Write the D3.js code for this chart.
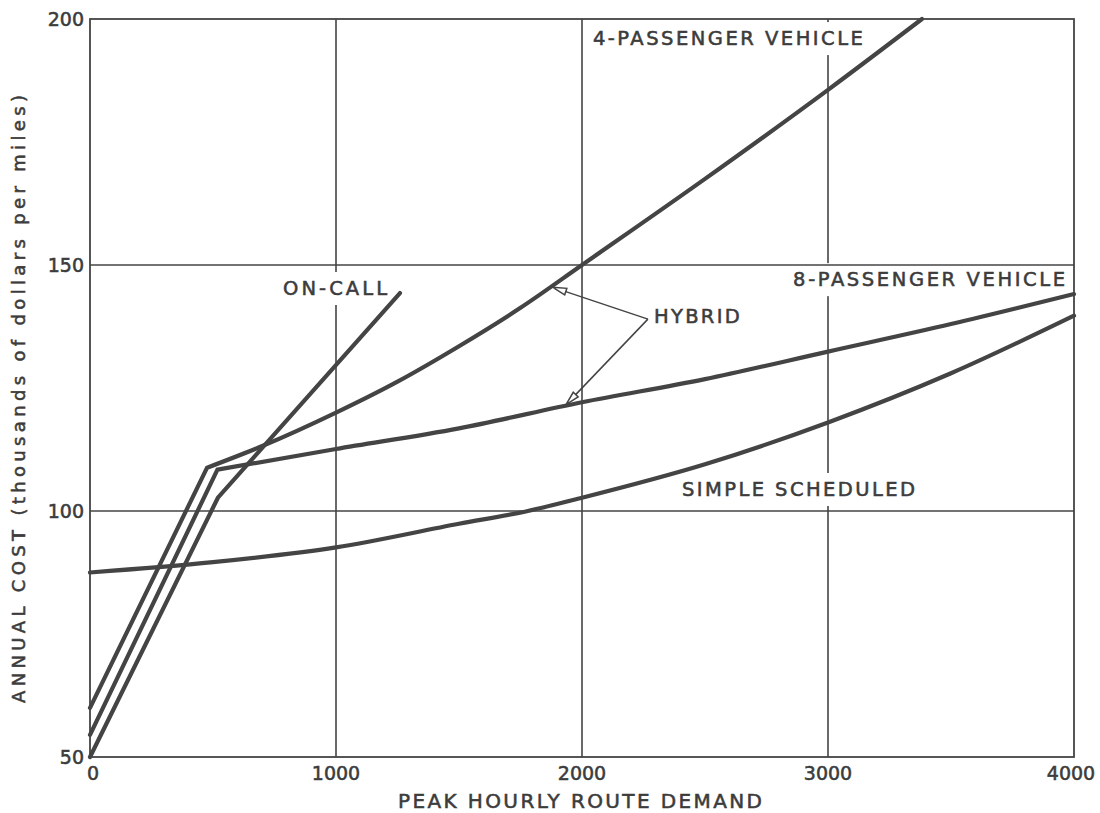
<!DOCTYPE html>
<html>
<head>
<meta charset="utf-8">
<script src="https://cdn.jsdelivr.net/npm/d3@7"></script>
<style>
  html, body { margin: 0; padding: 0; background: #fff; }
  svg { display: block; }
  text { font-family: "DejaVu Sans", sans-serif; fill: #3c3c3c; stroke: #3c3c3c; stroke-width: 0.55px; }
</style>
</head>
<body>
<svg id="chart" width="1100" height="813"></svg>
<script>
// Axis ticks
const xTicks = [0, 1000, 2000, 3000, 4000];
const yTicks = [50, 100, 150, 200];

// Each service: a straight start-up ramp up to a knee, then the operating curve.
// [peak hourly demand, annual cost (k$ per mile)]
const fourPassengerRamp = [[0, 60], [476, 108.8]];
const fourPassengerCurve = [[476, 108.8], [700, 113.2], [1000, 120], [1250, 126.3], [1500, 133.5],
  [1750, 141.3], [2000, 150], [2500, 167.5], [3000, 185.6], [3382, 200]];

const eightPassengerRamp = [[0, 54.5], [518, 108.4]];
const eightPassengerCurve = [[518, 108.4], [1000, 112.6], [1500, 116.8], [2000, 122.1],
  [2500, 126.8], [3000, 132.4], [3500, 138], [4000, 144.1]];

const onCallLine = [[0, 50], [520, 102.7], [1260, 144.3]];

const simpleScheduled = [[0, 87.5], [500, 89.6], [1000, 92.6], [1500, 97.4], [1780, 100],
  [2000, 102.7], [2500, 109.5], [3000, 118], [3500, 128], [4000, 139.7]];

// Series labels: text, centre of baseline [demand, cost], rendered width in px
const seriesLabels = [
  { text: "4-PASSENGER VEHICLE", at: [2593, 194.7], width: 270 },
  { text: "8-PASSENGER VEHICLE", at: [3411, 145.7], width: 272 },
  { text: "ON-CALL", at: [996, 143.9], width: 104 },
  { text: "HYBRID", at: [2467, 138.2], width: 86 },
  { text: "SIMPLE SCHEDULED", at: [2880, 103.05], width: 233 }
];

// HYBRID call-outs: from the label to points on the two vehicle curves
const hybridFrom = [2268, 139.0];
const hybridTargets = [[1880, 145.5], [1935, 121.6]];

const svg = d3.select("#chart");
const margin = { left: 90, right: 26, top: 19, bottom: 56 };
const W = 1100, H = 813;

const x = d3.scaleLinear().domain([0, 4000]).range([margin.left, W - margin.right]);
const y = d3.scaleLinear().domain([50, 200]).range([H - margin.bottom, margin.top]);

const ink = "#444";

// vertical grid lines
svg.append("g").selectAll("line")
  .data(xTicks.slice(1, -1))
  .join("line")
  .attr("x1", d => x(d)).attr("x2", d => x(d))
  .attr("y1", y(200)).attr("y2", y(50))
  .attr("stroke", ink).attr("stroke-width", 1.6);

// white knock-outs behind series labels (interrupt the vertical grid)
const labelBg = svg.append("g");

// horizontal grid lines
svg.append("g").selectAll("line")
  .data(yTicks.slice(1, -1))
  .join("line")
  .attr("x1", x(0)).attr("x2", x(4000))
  .attr("y1", d => y(d)).attr("y2", d => y(d))
  .attr("stroke", ink).attr("stroke-width", 1.6);

// frame
svg.append("rect")
  .attr("x", x(0)).attr("y", y(200))
  .attr("width", x(4000) - x(0)).attr("height", y(50) - y(200))
  .attr("fill", "none").attr("stroke", ink).attr("stroke-width", 1.8);

// tick labels
const tickFont = 19;
svg.append("g").selectAll("text")
  .data(yTicks).join("text")
  .attr("x", x(0) - 6).attr("y", d => y(d))
  .attr("dy", "0.36em")
  .attr("text-anchor", "end")
  .attr("font-size", tickFont)
  .text(d => d);

svg.append("g").selectAll("text")
  .data(xTicks).join("text")
  .attr("x", (d, i) => x(d) + (i === 0 ? 3 : (i === xTicks.length - 1 ? -3 : 0)))
  .attr("y", y(50) + 23)
  .attr("text-anchor", "middle")
  .attr("font-size", tickFont)
  .text(d => d);

// axis titles
svg.append("text")
  .attr("x", (x(0) + x(4000)) / 2 - 2)
  .attr("y", 808)
  .attr("text-anchor", "middle")
  .attr("font-size", 20)
  .attr("textLength", 364).attr("lengthAdjust", "spacing")
  .text("PEAK HOURLY ROUTE DEMAND");

svg.append("text")
  .attr("transform", "translate(25,399) rotate(-90)")
  .attr("text-anchor", "middle")
  .attr("font-size", 18)
  .attr("textLength", 608).attr("lengthAdjust", "spacing")
  .text("ANNUAL COST (thousands of dollars per miles)");

// curves
const straight = d3.line().x(d => x(d[0])).y(d => y(d[1]));
const smooth = d3.line().x(d => x(d[0])).y(d => y(d[1])).curve(d3.curveMonotoneX);

// ramp + curve joined into one continuous path so the knee stays sharp
function rampThenCurve(ramp, curve) {
  const a = straight(ramp);
  const b = smooth(curve).replace(/^M/, "L");
  return a + b;
}

const curveStyle = g => g
  .attr("fill", "none")
  .attr("stroke", ink)
  .attr("stroke-width", 4.2)
  .attr("stroke-linejoin", "miter")
  .attr("stroke-linecap", "round");

const curves = svg.append("g");
curves.append("path").attr("d", smooth(simpleScheduled)).call(curveStyle);
curves.append("path").attr("d", rampThenCurve(eightPassengerRamp, eightPassengerCurve)).call(curveStyle);
curves.append("path").attr("d", rampThenCurve(fourPassengerRamp, fourPassengerCurve)).call(curveStyle);
curves.append("path").attr("d", straight(onCallLine)).call(curveStyle);

// series labels
const labelTx = svg.append("g");
const labelFont = 19.5;
seriesLabels.forEach(l => {
  const t = labelTx.append("text")
    .attr("x", x(l.at[0])).attr("y", y(l.at[1]))
    .attr("text-anchor", "middle")
    .attr("font-size", labelFont)
    .attr("textLength", l.width).attr("lengthAdjust", "spacing")
    .text(l.text);
  const bb = t.node().getBBox();
  labelBg.append("rect")
    .attr("x", bb.x - 4).attr("y", bb.y - 5)
    .attr("width", bb.width + 8).attr("height", bb.height + 10)
    .attr("fill", "#fff");
});

// HYBRID call-out arrows
const arrows = svg.append("g");
hybridTargets.forEach(tg => {
  const x0 = x(hybridFrom[0]), y0 = y(hybridFrom[1]);
  const x1 = x(tg[0]), y1 = y(tg[1]);
  const ang = Math.atan2(y1 - y0, x1 - x0);
  const len = 14, half = 3.4;
  const bx = x1 - len * Math.cos(ang), by = y1 - len * Math.sin(ang);
  arrows.append("line")
    .attr("x1", x0).attr("y1", y0).attr("x2", bx).attr("y2", by)
    .attr("stroke", ink).attr("stroke-width", 1.5);
  const px = -Math.sin(ang) * half, py = Math.cos(ang) * half;
  arrows.append("path")
    .attr("d", `M${x1},${y1}L${bx + px},${by + py}L${bx - px},${by - py}Z`)
    .attr("fill", "#fff").attr("stroke", ink).attr("stroke-width", 1.5)
    .attr("stroke-linejoin", "miter");
});
</script>
</body>
</html>
